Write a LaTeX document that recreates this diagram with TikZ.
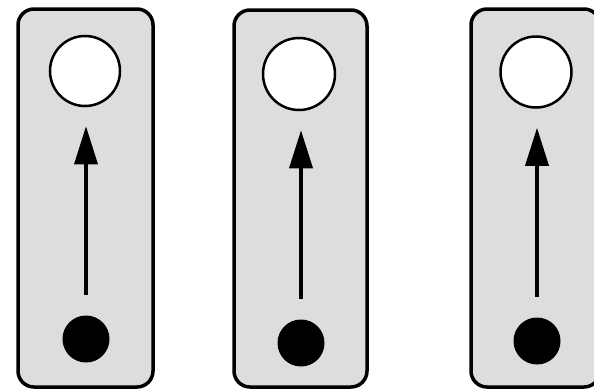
\documentclass[tikz,border=0pt]{standalone}
\usetikzlibrary{arrows.meta}
\definecolor{boxgray}{RGB}{221,221,221}
\begin{document}
\begin{tikzpicture}[x=1pt,y=-1pt,
  panel/.style={draw=black,line width=3.5pt,fill=boxgray,rounded corners=16pt},
  opencirc/.style={circle,draw=black,line width=2.5pt,fill=white,inner sep=0pt},
  dotcirc/.style={circle,fill=black,draw=black,line width=1pt,inner sep=0pt,minimum size=46pt},
  flow/.style={line width=3.5pt,-{Triangle[length=38pt,width=23pt]},shorten <=21pt,shorten >=19pt}]
\useasboundingbox (0,0) rectangle (594,391);
\draw[panel] (18,9) rectangle (153,387);
\draw[panel] (234,10) rectangle (367,387);
\draw[panel] (471,9) rectangle (600,387);
\node[opencirc,minimum size=70pt] (o1) at (85,71) {};
\node[opencirc,minimum size=72pt] (o2) at (299,74) {};
\node[opencirc,minimum size=71pt] (o3) at (536,72) {};
\node[dotcirc] (d1) at (86,339) {};
\node[dotcirc] (d2) at (301,343) {};
\node[dotcirc] (d3) at (537,341) {};
\draw[flow] (d1.north) -- (d1.north |- o1.south);
\draw[flow] (d2.north) -- (d2.north |- o2.south);
\draw[flow] (d3.north) -- (d3.north |- o3.south);
\end{tikzpicture}
\end{document}
